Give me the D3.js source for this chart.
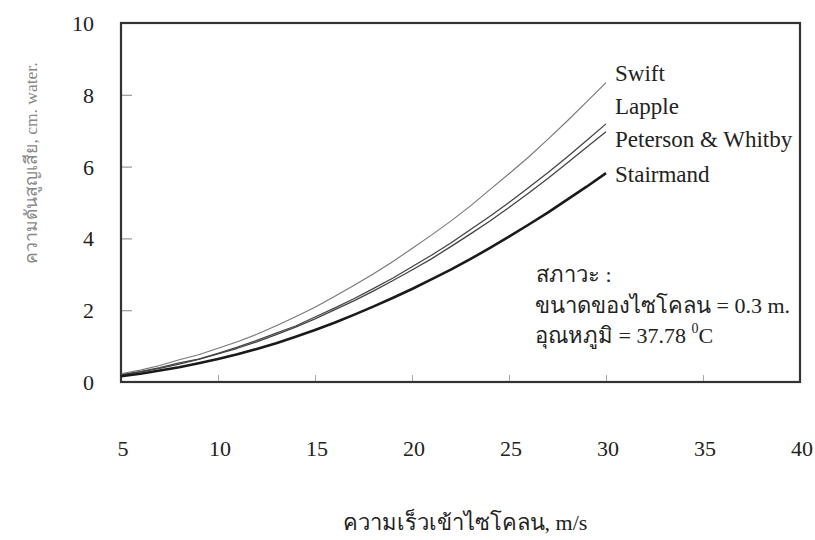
<!DOCTYPE html>
<html><head><meta charset="utf-8">
<script src="https://cdn.jsdelivr.net/npm/d3@7/dist/d3.min.js"></script>
<style>
body{margin:0;background:#fff;}
</style></head>
<body><svg id="c" width="815" height="540"></svg>
<script>
const velocity = [5,6,7,8,9,10,11,12,13,14,15,16,17,18,19,20,21,22,23,24,25,26,27,28,29,30];
const swift     = [0.23,0.33,0.46,0.62,0.76,0.94,1.12,1.33,1.57,1.82,2.08,2.38,2.69,3.01,3.35,3.72,4.09,4.48,4.90,5.35,5.80,6.26,6.76,7.27,7.80,8.34];
const lapple    = [0.20,0.29,0.40,0.53,0.64,0.80,0.97,1.16,1.36,1.56,1.81,2.06,2.32,2.60,2.89,3.21,3.53,3.87,4.24,4.61,5.00,5.41,5.83,6.27,6.73,7.19];
const peterson  = [0.19,0.28,0.38,0.50,0.63,0.78,0.94,1.12,1.32,1.53,1.76,2.01,2.26,2.53,2.82,3.12,3.43,3.77,4.12,4.48,4.86,5.26,5.67,6.10,6.54,6.97];
const stairmand = [0.16,0.23,0.32,0.41,0.52,0.64,0.77,0.92,1.08,1.26,1.45,1.65,1.87,2.10,2.34,2.59,2.86,3.13,3.42,3.73,4.05,4.38,4.72,5.08,5.44,5.82];
const seriesNames = ["Swift","Lapple","Peterson & Whitby","Stairmand"];
const xTicks = [5,10,15,20,25,30,35,40];
const yTicks = [0,2,4,6,8,10];

const FF = "'Liberation Serif','DejaVu Serif','Times New Roman',serif";
const svg = d3.select("#c").attr("font-family",FF);
const L=121, T=23, R=800, B=382;
const x = d3.scaleLinear().domain([5,40]).range([L,R]);
const y = d3.scaleLinear().domain([0,10]).range([B,T]);

// inner ticks
svg.append("g").attr("transform",`translate(${L},0)`)
  .call(d3.axisRight(y).tickValues(yTicks.slice(1,-1)).tickSize(11).tickFormat(""))
  .call(g=>g.select(".domain").remove())
  .call(g=>g.selectAll("line").attr("stroke","#999").attr("stroke-width",1.2));
svg.append("g").attr("transform",`translate(0,${B})`)
  .call(d3.axisTop(x).tickValues(xTicks.slice(1,-1)).tickSize(7).tickFormat(""))
  .call(g=>g.select(".domain").remove())
  .call(g=>g.selectAll("line").attr("stroke","#aaa").attr("stroke-width",1));

// tick labels
svg.append("g").selectAll("text").data(yTicks).join("text")
  .attr("font-family",FF).attr("fill","#222")
  .attr("x",94).attr("y",d=>y(d)+8).attr("text-anchor","end")
  .attr("font-size",22).text(d=>d);
svg.append("g").selectAll("text").data(xTicks).join("text")
  .attr("font-family",FF).attr("fill","#222")
  .attr("x",d=>x(d)+2).attr("y",456).attr("text-anchor","middle")
  .attr("font-size",22).text(d=>d);

// frame
svg.append("rect").attr("x",L).attr("y",T).attr("width",R-L).attr("height",B-T)
  .attr("fill","none").attr("stroke","#333").attr("stroke-width",2.2);

const data = [swift,lapple,peterson,stairmand];
const styles = [{c:"#777",w:1.1},{c:"#444",w:1.3},{c:"#444",w:1.3},{c:"#1a1a1a",w:2.6}];
const line = d3.line().x((d,i)=>x(velocity[i])).y(d=>y(d)).curve(d3.curveLinear);
data.forEach((s,k)=>{
  svg.append("path").attr("d",line(s)).attr("fill","none")
    .attr("stroke",styles[k].c).attr("stroke-width",styles[k].w).attr("stroke-linejoin","round");
});

// series labels
const labY = [81,114,147,182];
svg.append("g").selectAll("text").data(seriesNames).join("text")
  .attr("font-family",FF).attr("fill","#222")
  .attr("x",615).attr("y",(d,i)=>labY[i]).attr("font-size",23).text(d=>d);

// annotation
const ann = svg.append("g").attr("font-size",22).attr("font-family",FF).attr("fill","#222");
ann.append("text").attr("x",536).attr("y",282).text("สภาวะ :");
ann.append("text").attr("x",535).attr("y",313).text("ขนาดของไซโคลน = 0.3 m.");
const t3 = ann.append("text").attr("x",535).attr("y",343);
t3.append("tspan").text("อุณหภูมิ = 37.78 ");
t3.append("tspan").attr("font-size",14).attr("dy",-10).text("0");
t3.append("tspan").attr("dy",10).text("C");

// axis titles
svg.append("text").attr("x",465).attr("y",530).attr("text-anchor","middle")
  .attr("font-family",FF).attr("fill","#222")
  .attr("font-size",22).text("ความเร็วเข้าไซโคลน, m/s");
svg.append("text").attr("transform","translate(37,163) rotate(-90)")
  .attr("font-family",FF).attr("fill","#888")
  .attr("text-anchor","middle").attr("font-size",17.5)
  .text("ความดันสูญเสีย, cm. water.");
</script></body></html>
